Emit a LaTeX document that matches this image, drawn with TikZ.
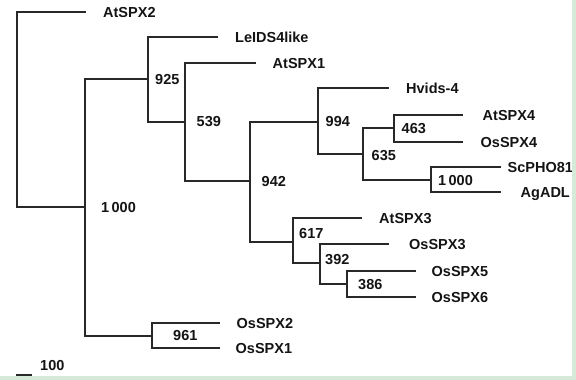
\documentclass[tikz,border=0pt]{standalone}
\usepackage{fontspec}
\setmainfont{Liberation Sans}
\definecolor{branch}{RGB}{40,40,40}
\definecolor{txt}{RGB}{20,20,20}
\definecolor{frame}{RGB}{213,235,216}
\begin{document}
\begin{tikzpicture}[x=1pt,y=-1pt,
  br/.style={draw=branch,line width=2.5pt,line join=miter},
  leaf/.style={anchor=west,inner sep=0pt,text height=10.3pt,text depth=0pt,font=\fontsize{14.5}{16}\selectfont\bfseries,text=txt},
  boot/.style={leaf}]
\useasboundingbox (0,0) rectangle (576,380);
\fill[white] (0,0) rectangle (576,380);
% internal nodes
\coordinate (r) at (17,110);
\coordinate (n1000) at (85,207);
\coordinate (n925) at (148,79);
\coordinate (n539) at (185,122);
\coordinate (n942) at (250,181);
\coordinate (n994) at (318,122);
\coordinate (n635) at (363,154);
\coordinate (n463) at (394,128);
\coordinate (n1000b) at (431,180);
\coordinate (n617) at (293,242);
\coordinate (n392) at (320,263);
\coordinate (n386) at (347,284);
\coordinate (n961) at (152,336);
% leaf ends
\coordinate (eAtSPX2) at (86,12);
\coordinate (eLeIDS) at (218,37);
\coordinate (eAtSPX1) at (256,63);
\coordinate (eHvids) at (389,88);
\coordinate (eAtSPX4) at (463,115);
\coordinate (eOsSPX4) at (463,142);
\coordinate (eScPHO) at (501,167);
\coordinate (eAgADL) at (501,192);
\coordinate (eAtSPX3) at (362,218);
\coordinate (eOsSPX3) at (389,244);
\coordinate (eOsSPX5) at (416,271);
\coordinate (eOsSPX6) at (416,297);
\coordinate (eOsSPX2) at (220,323);
\coordinate (eOsSPX1) at (220,348);
% branches
\draw[br] (r) |- (eAtSPX2);
\draw[br] (r) |- (n1000);
\draw[br] (n1000) |- (n925);
\draw[br] (n1000) |- (n961);
\draw[br] (n925) |- (eLeIDS);
\draw[br] (n925) |- (n539);
\draw[br] (n539) |- (eAtSPX1);
\draw[br] (n539) |- (n942);
\draw[br] (n942) |- (n994);
\draw[br] (n942) |- (n617);
\draw[br] (n994) |- (eHvids);
\draw[br] (n994) |- (n635);
\draw[br] (n635) |- (n463);
\draw[br] (n635) |- (n1000b);
\draw[br] (n463) |- (eAtSPX4);
\draw[br] (n463) |- (eOsSPX4);
\draw[br] (n1000b) |- (eScPHO);
\draw[br] (n1000b) |- (eAgADL);
\draw[br] (n617) |- (eAtSPX3);
\draw[br] (n617) |- (n392);
\draw[br] (n392) |- (eOsSPX3);
\draw[br] (n392) |- (n386);
\draw[br] (n386) |- (eOsSPX5);
\draw[br] (n386) |- (eOsSPX6);
\draw[br] (n961) |- (eOsSPX2);
\draw[br] (n961) |- (eOsSPX1);
% leaf labels
\node[leaf] (lAtSPX2) at (103,12) {AtSPX2};
\node[leaf] (lLeIDS) at (235,37) {LeIDS4like};
\node[leaf] (lAtSPX1) at (272.5,63) {AtSPX1};
\node[leaf] (lHvids) at (406,88) {Hvids-4};
\node[leaf] (lAtSPX4) at (482.5,115) {AtSPX4};
\node[leaf] (lOsSPX4) at (480.5,142) {OsSPX4};
\node[leaf] (lScPHO) at (507.5,167) {ScPHO81};
\node[leaf] (lAgADL) at (520.5,192) {AgADL};
\node[leaf] (lAtSPX3) at (379,218) {AtSPX3};
\node[leaf] (lOsSPX3) at (409,244) {OsSPX3};
\node[leaf] (lOsSPX5) at (431.5,271) {OsSPX5};
\node[leaf] (lOsSPX6) at (431.5,297) {OsSPX6};
\node[leaf] (lOsSPX2) at (236.5,323) {OsSPX2};
\node[leaf] (lOsSPX1) at (235.5,348) {OsSPX1};
% bootstrap values
\node[boot] (b925) at (155,79) {925};
\node[boot] (b539) at (196.5,121) {539};
\node[boot] (b942) at (261.5,181) {942};
\node[boot] (b1000) at (101,207) {1\,000};
\node[boot] (b994) at (325.5,121) {994};
\node[boot] (b463) at (401.5,128) {463};
\node[boot] (b635) at (371.5,155) {635};
\node[boot] (b1000b) at (438,180) {1\,000};
\node[boot] (b617) at (299,233) {617};
\node[boot] (b392) at (325,259) {392};
\node[boot] (b386) at (358,284) {386};
\node[boot] (b961) at (173,335) {961};
% scale bar
\coordinate (s1) at (16,375);
\coordinate (s2) at (32,375);
\draw[br] (s1) -- (s2);
\node[boot] (bscale) at (40,365) {100};
% frame
\fill[frame] (572,0) rectangle (576,380);
\fill[frame] (0,376) rectangle (576,380);
\end{tikzpicture}
\end{document}
